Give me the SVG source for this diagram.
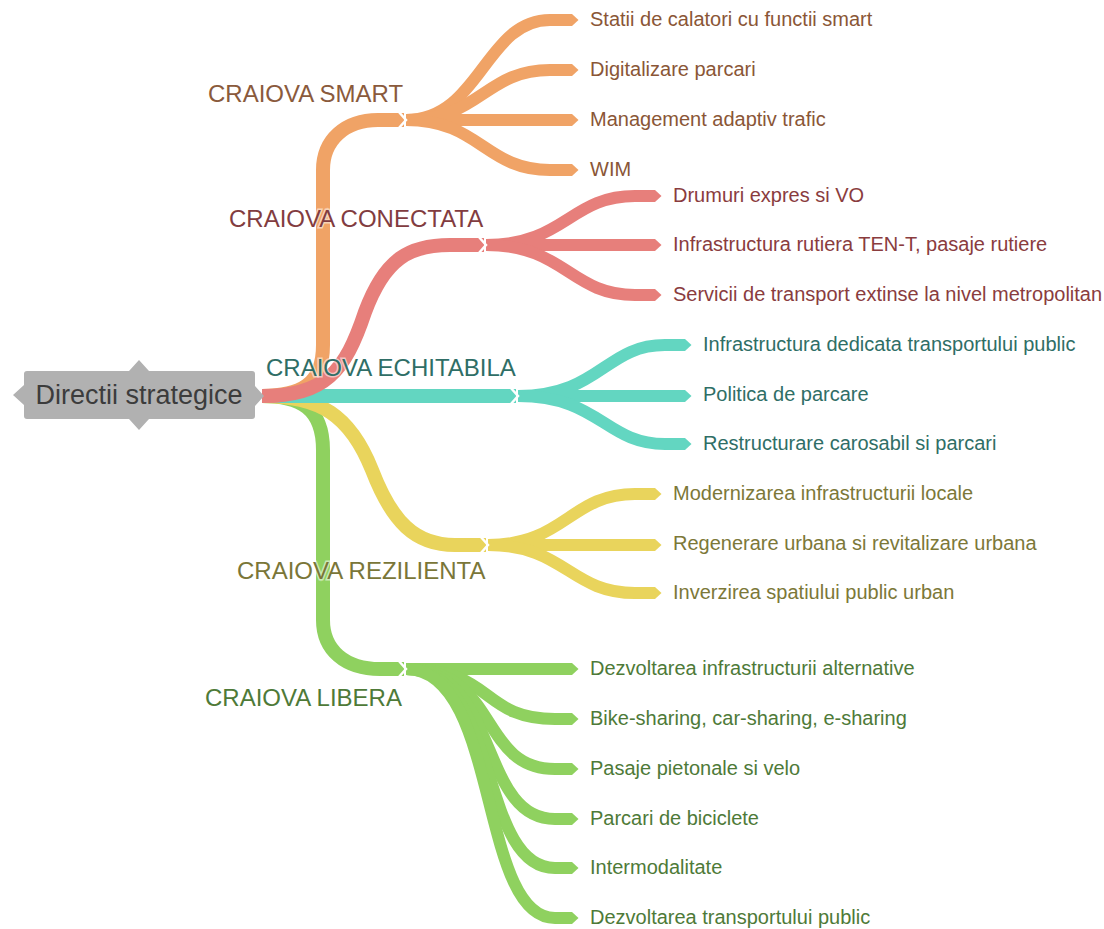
<svg xmlns="http://www.w3.org/2000/svg" width="1104" height="929" viewBox="0 0 1104 929">
<style>
.br{fill:none;stroke-linecap:butt;stroke-linejoin:round}
.main{stroke-width:14}
.sub{stroke-width:12}
.lbl{font-family:"Liberation Sans",Arial,sans-serif;font-size:24px;paint-order:stroke;stroke:#fff;stroke-opacity:0.55;stroke-width:3px}
.leaf{font-family:"Liberation Sans",Arial,sans-serif;font-size:20px}
.gap{fill:none;stroke:#fff;stroke-width:2.5;stroke-linejoin:miter}
.o{stroke:#f0a366}.r{stroke:#e77f7b}.t{stroke:#63d6c1}.y{stroke:#e9d45c}.g{stroke:#8fd15f}
</style>
<defs>
<marker id="mo" markerUnits="userSpaceOnUse" viewBox="0 -7 10 14" markerWidth="10" markerHeight="14" refX="0" refY="0" orient="auto"><path d="M0,-6 L2,-6 L8.5,0 L2,6 L0,6 Z" fill="#f0a366"/></marker>
<marker id="mr" markerUnits="userSpaceOnUse" viewBox="0 -7 10 14" markerWidth="10" markerHeight="14" refX="0" refY="0" orient="auto"><path d="M0,-6 L2,-6 L8.5,0 L2,6 L0,6 Z" fill="#e77f7b"/></marker>
<marker id="mt" markerUnits="userSpaceOnUse" viewBox="0 -7 10 14" markerWidth="10" markerHeight="14" refX="0" refY="0" orient="auto"><path d="M0,-6 L2,-6 L8.5,0 L2,6 L0,6 Z" fill="#63d6c1"/></marker>
<marker id="my" markerUnits="userSpaceOnUse" viewBox="0 -7 10 14" markerWidth="10" markerHeight="14" refX="0" refY="0" orient="auto"><path d="M0,-6 L2,-6 L8.5,0 L2,6 L0,6 Z" fill="#e9d45c"/></marker>
<marker id="mg" markerUnits="userSpaceOnUse" viewBox="0 -7 10 14" markerWidth="10" markerHeight="14" refX="0" refY="0" orient="auto"><path d="M0,-6 L2,-6 L8.5,0 L2,6 L0,6 Z" fill="#8fd15f"/></marker>
</defs>
<rect width="1104" height="929" fill="#fff"/>
<g id="connectors">
  <!-- LIBERA -->
  <g class="br g">
    <path class="main" d="M262,396 C300,396 323,408 323,450 L323,620 C323,650 345,669 380,669 L404,669"/>
    <path class="sub" marker-end="url(#mg)" d="M406,669 L570,669"/>
    <path class="sub" marker-end="url(#mg)" d="M406,669 C495,669 480,719 555,719 L570,719"/>
    <path class="sub" marker-end="url(#mg)" d="M406,669 C500,669 478,769 555,769 L570,769"/>
    <path class="sub" marker-end="url(#mg)" d="M406,669 C500,669 478,819 555,819 L570,819"/>
    <path class="sub" marker-end="url(#mg)" d="M406,669 C500,669 478,868 555,868 L570,868"/>
    <path class="sub" marker-end="url(#mg)" d="M406,669 C500,669 478,918 555,918 L570,918"/>
  </g>
  <polyline class="gap" points="398,660 406,669 398,678"/>
  <!-- REZILIENTA -->
  <g class="br y">
    <path class="main" d="M262,396 C320,396 350,415 372,470 C392,522 415,545 455,545 L486,545"/>
    <path class="sub" marker-end="url(#my)" d="M488,545 C565,545 570,494 635,494 L653,494"/>
    <path class="sub" marker-end="url(#my)" d="M488,545 L653,545"/>
    <path class="sub" marker-end="url(#my)" d="M488,545 C565,545 570,593 635,593 L653,593"/>
  </g>
  <polyline class="gap" points="480,536 488,545 480,554"/>
  <!-- ECHITABILA -->
  <g class="br t">
    <path class="main" d="M262,396 L516,396"/>
    <path class="sub" marker-end="url(#mt)" d="M518,396 C600,396 605,345 665,345 L683,345"/>
    <path class="sub" marker-end="url(#mt)" d="M518,396 L683,396"/>
    <path class="sub" marker-end="url(#mt)" d="M518,396 C600,396 605,444 665,444 L683,444"/>
  </g>
  <polyline class="gap" points="510,387 518,396 510,405"/>
  <!-- SMART -->
  <g class="br o">
    <path class="main" d="M262,396 C300,396 323,385 323,345 L323,170 C323,140 345,120 378,120 L404,120"/>
    <path class="sub" marker-end="url(#mo)" d="M406,120 C480,120 485,20 550,20 L570,20"/>
    <path class="sub" marker-end="url(#mo)" d="M406,120 C480,120 485,70 550,70 L570,70"/>
    <path class="sub" marker-end="url(#mo)" d="M406,120 L570,120"/>
    <path class="sub" marker-end="url(#mo)" d="M406,120 C480,120 485,170 550,170 L570,170"/>
  </g>
  <polyline class="gap" points="398,111 406,120 398,129"/>
  <!-- CONECTATA -->
  <g class="br r">
    <path class="main" d="M262,396 C325,396 345,372 365,312 C385,258 410,245 450,245 L484,245"/>
    <path class="sub" marker-end="url(#mr)" d="M486,245 C565,245 570,196 635,196 L653,196"/>
    <path class="sub" marker-end="url(#mr)" d="M486,245 L653,245"/>
    <path class="sub" marker-end="url(#mr)" d="M486,245 C565,245 570,295 635,295 L653,295"/>
  </g>
  <polyline class="gap" points="478,236 486,245 478,254"/>
</g>
<g id="root">
  <path d="M27,371 L129,371 L139,360 L149,371 L252,371 Q255,371 255,374 L255,386 L264,396 L255,406 L255,416 Q255,419 252,419 L149,419 L139,430 L129,419 L27,419 Q24,419 24,416 L24,405 L13,395 L24,385 L24,374 Q24,371 27,371 Z" fill="#b1b1b1"/>
  <text x="139" y="404" text-anchor="middle" font-family="Liberation Sans, Arial, sans-serif" font-size="27" fill="#3c3c3c">Directii strategice</text>
</g>
<g id="smart">
  <text class="lbl" x="208" y="102" fill="#8a5a3c">CRAIOVA SMART</text>
  <text class="leaf" x="590" y="26" fill="#8a5636">Statii de calatori cu functii smart</text>
  <text class="leaf" x="590" y="76" fill="#8a5636">Digitalizare parcari</text>
  <text class="leaf" x="590" y="126" fill="#8a5636">Management adaptiv trafic</text>
  <text class="leaf" x="590" y="176" fill="#8a5636">WIM</text>
</g>
<g id="conectata">
  <text class="lbl" x="229" y="227" fill="#823c40">CRAIOVA CONECTATA</text>
  <text class="leaf" x="673" y="202" fill="#8a3c3e">Drumuri expres si VO</text>
  <text class="leaf" x="673" y="251" fill="#8a3c3e">Infrastructura rutiera TEN-T, pasaje rutiere</text>
  <text class="leaf" x="673" y="301" fill="#8a3c3e">Servicii de transport extinse la nivel metropolitan</text>
</g>
<g id="echitabila">
  <text class="lbl" x="266" y="376" fill="#2f6e66">CRAIOVA ECHITABILA</text>
  <text class="leaf" x="703" y="351" fill="#2f6e66">Infrastructura dedicata transportului public</text>
  <text class="leaf" x="703" y="401" fill="#2f6e66">Politica de parcare</text>
  <text class="leaf" x="703" y="450" fill="#2f6e66">Restructurare carosabil si parcari</text>
</g>
<g id="rezilienta">
  <text class="lbl" x="237" y="579" fill="#7a7638">CRAIOVA REZILIENTA</text>
  <text class="leaf" x="673" y="500" fill="#7c7838">Modernizarea infrastructurii locale</text>
  <text class="leaf" x="673" y="550" fill="#7c7838">Regenerare urbana si revitalizare urbana</text>
  <text class="leaf" x="673" y="599" fill="#7c7838">Inverzirea spatiului public urban</text>
</g>
<g id="libera">
  <text class="lbl" x="205" y="706" fill="#4e7a38">CRAIOVA LIBERA</text>
  <text class="leaf" x="590" y="675" fill="#4e7a38">Dezvoltarea infrastructurii alternative</text>
  <text class="leaf" x="590" y="725" fill="#4e7a38">Bike-sharing, car-sharing, e-sharing</text>
  <text class="leaf" x="590" y="775" fill="#4e7a38">Pasaje pietonale si velo</text>
  <text class="leaf" x="590" y="825" fill="#4e7a38">Parcari de biciclete</text>
  <text class="leaf" x="590" y="874" fill="#4e7a38">Intermodalitate</text>
  <text class="leaf" x="590" y="924" fill="#4e7a38">Dezvoltarea transportului public</text>
</g>
</svg>
